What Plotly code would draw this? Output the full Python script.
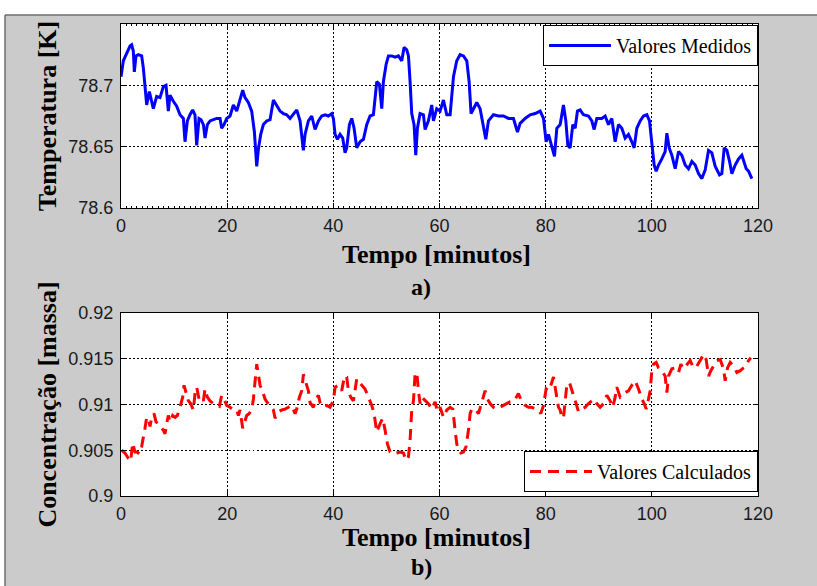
import plotly.graph_objects as go

# ---- measured temperature (K) vs time (min) ----
t_temp = [0.0, 0.44, 1.07, 1.70, 2.01, 2.32, 2.51, 2.83, 3.27, 3.89, 4.21, 4.52, 4.84, 5.34, 5.78,
          6.09, 6.72, 7.35, 7.98, 8.48, 8.92, 9.23, 9.86, 10.49, 11.12, 11.75, 12.06, 12.50, 13.00,
          13.50, 13.94, 14.26, 14.70, 15.08, 15.52, 15.83, 16.27, 16.77, 17.40, 18.03, 18.66, 18.97,
          19.41, 19.91, 20.54, 21.17, 21.80, 22.42, 22.93, 23.37, 23.99, 24.62, 25.13, 25.57, 25.88,
          26.32, 26.82, 27.45, 28.08, 28.71, 29.33, 29.96, 30.59, 31.22, 31.85, 32.48, 33.10, 33.73,
          34.36, 34.67, 35.30, 35.93, 36.56, 37.19, 37.81, 38.44, 39.07, 39.70, 40.01, 40.33, 40.77,
          41.27, 41.77, 42.21, 42.52, 43.03, 43.47, 43.91, 44.41, 45.04, 45.67, 46.29, 46.92, 47.55,
          48.18, 48.68, 49.12, 49.43, 49.94, 50.38, 51.01, 51.63, 52.26, 52.89, 53.33, 53.83, 54.15,
          54.46, 54.77, 55.21, 55.53, 55.84, 56.34, 56.97, 57.29, 57.91, 58.54, 58.86, 59.48, 60.11,
          60.74, 61.37, 62.00, 62.63, 63.25, 63.88, 64.51, 65.14, 65.58, 65.95, 66.39, 67.02, 67.65,
          68.28, 68.72, 69.22, 70.16, 71.11, 72.05, 72.99, 73.93, 74.69, 75.19, 76.13, 77.07, 78.02,
          78.96, 79.59, 80.09, 80.53, 81.16, 81.66, 82.10, 82.73, 83.35, 83.80, 84.17, 84.61, 85.11,
          85.55, 85.99, 86.49, 87.12, 88.07, 88.69, 89.13, 89.64, 90.58, 91.21, 91.83, 92.46, 93.09,
          93.72, 94.35, 94.97, 95.60, 96.23, 96.67, 97.17, 97.80, 98.43, 99.06, 99.56, 100.0, 100.44,
          100.82, 101.26, 101.88, 102.51, 102.83, 103.27, 103.77, 104.40, 105.03, 105.65, 106.28,
          106.91, 107.54, 108.17, 108.79, 109.42, 110.05, 110.68, 111.31, 111.93, 112.75, 113.19,
          113.63, 114.14, 114.64, 115.08, 115.70, 116.33, 116.96, 117.40, 117.78, 118.22, 118.84]
temp_measured = [78.707, 78.720, 78.726, 78.732, 78.733, 78.728, 78.711, 78.724, 78.725, 78.724,
                 78.714, 78.700, 78.684, 78.695, 78.688, 78.681, 78.691, 78.690, 78.699, 78.700,
                 78.679, 78.692, 78.687, 78.683, 78.676, 78.673, 78.654, 78.671, 78.676, 78.680,
                 78.676, 78.651, 78.673, 78.672, 78.668, 78.657, 78.668, 78.671, 78.672, 78.673,
                 78.673, 78.665, 78.668, 78.673, 78.675, 78.684, 78.679, 78.688, 78.696, 78.690,
                 78.686, 78.679, 78.662, 78.634, 78.648, 78.660, 78.668, 78.671, 78.672, 78.688,
                 78.683, 78.679, 78.677, 78.676, 78.673, 78.677, 78.680, 78.671, 78.647, 78.660,
                 78.671, 78.675, 78.664, 78.671, 78.675, 78.676, 78.675, 78.677, 78.673, 78.660,
                 78.656, 78.660, 78.657, 78.645, 78.649, 78.668, 78.673, 78.665, 78.649, 78.654,
                 78.656, 78.668, 78.675, 78.676, 78.703, 78.701, 78.681, 78.703, 78.717, 78.724,
                 78.724, 78.723, 78.724, 78.720, 78.731, 78.729, 78.724, 78.703, 78.677, 78.668,
                 78.643, 78.665, 78.677, 78.676, 78.664, 78.671, 78.684, 78.671, 78.681, 78.679,
                 78.688, 78.676, 78.676, 78.707, 78.720, 78.725, 78.724, 78.720, 78.703, 78.677,
                 78.681, 78.686, 78.681, 78.665, 78.656, 78.671, 78.676, 78.675, 78.675, 78.673,
                 78.673, 78.662, 78.669, 78.673, 78.676, 78.677, 78.679, 78.673, 78.654, 78.660,
                 78.649, 78.642, 78.665, 78.668, 78.684, 78.671, 78.651, 78.649, 78.668, 78.665,
                 78.679, 78.680, 78.676, 78.675, 78.671, 78.664, 78.673, 78.673, 78.675, 78.668,
                 78.673, 78.654, 78.668, 78.665, 78.657, 78.660, 78.654, 78.649, 78.665, 78.671,
                 78.675, 78.676, 78.671, 78.654, 78.635, 78.630, 78.635, 78.640, 78.646, 78.661,
                 78.649, 78.643, 78.632, 78.646, 78.643, 78.635, 78.632, 78.638, 78.635, 78.628,
                 78.624, 78.631, 78.647, 78.645, 78.634, 78.627, 78.628, 78.649, 78.647, 78.638,
                 78.628, 78.635, 78.640, 78.643, 78.638, 78.632, 78.630, 78.624]

# ---- calculated mass concentration vs time (min) ----
t_conc = [0.13, 0.75, 1.38, 1.82, 2.20, 2.64, 3.08, 3.45, 3.89, 4.21, 4.52, 4.84, 5.15, 5.46, 5.78,
          6.22, 6.60, 7.04, 7.35, 7.66, 7.98, 8.29, 8.61, 8.92, 9.23, 9.74, 10.18, 10.62, 11.12,
          11.62, 11.87, 12.25, 12.69, 13.13, 13.63, 13.94, 14.26, 14.70, 15.08, 15.52, 15.83, 16.27,
          16.77, 17.40, 18.03, 18.53, 18.97, 19.41, 19.91, 20.54, 21.17, 21.80, 22.11, 22.42, 22.93,
          23.37, 23.68, 24.12, 24.62, 24.94, 25.25, 25.57, 25.88, 26.19, 26.51, 26.82, 27.14, 27.45,
          28.08, 28.71, 29.02, 29.65, 30.28, 30.90, 31.53, 32.16, 32.79, 33.10, 33.61, 34.05, 34.36,
          34.80, 35.30, 35.62, 36.24, 36.75, 37.19, 37.50, 38.13, 38.76, 39.38, 40.01, 40.33, 40.95,
          41.58, 42.09, 42.52, 42.84, 43.28, 43.78, 44.41, 44.91, 45.35, 45.98, 46.61, 47.24, 47.68,
          48.18, 48.81, 49.31, 49.75, 50.19, 50.69, 51.32, 51.95, 52.58, 53.20, 53.71, 54.15, 54.46,
          54.77, 55.09, 55.40, 55.72, 56.03, 56.34, 56.66, 57.29, 57.91, 58.54, 59.17, 59.61, 60.11,
          60.74, 61.37, 62.00, 62.50, 62.94, 63.25, 63.57, 64.01, 64.51, 65.01, 65.45, 65.77, 66.08,
          66.71, 67.34, 67.65, 68.15, 68.59, 69.03, 69.54, 70.16, 70.79, 71.42, 72.05, 72.68, 73.31,
          74.06, 74.87, 75.50, 76.13, 76.76, 77.39, 78.02, 78.64, 79.08, 79.59, 80.09, 80.53, 81.03,
          81.47, 81.78, 82.10, 82.41, 82.73, 83.04, 83.35, 83.67, 83.98, 84.49, 84.93, 85.24, 85.74,
          86.18, 86.81, 87.44, 88.07, 88.69, 89.13, 89.64, 90.26, 90.89, 91.52, 92.15, 92.65, 93.09,
          93.40, 94.03, 94.54, 94.97, 95.60, 96.23, 96.86, 97.49, 98.12, 98.56, 98.94, 99.37, 99.69,
          100.0, 100.31, 100.82, 101.26, 101.88, 102.51, 102.83, 103.14, 103.77, 104.40, 105.03,
          105.47, 105.97, 106.60, 107.23, 107.86, 108.48, 109.11, 109.74, 110.24, 110.68, 111.12,
          111.62, 112.25, 112.88, 113.51, 113.82, 114.26, 114.76, 115.39, 116.02, 116.65, 117.28,
          117.78, 118.22, 118.66]
conc_calculated = [0.9050, 0.9047, 0.9041, 0.9038, 0.9058, 0.9048, 0.9048, 0.9046, 0.9054, 0.9063,
                   0.9074, 0.9086, 0.9085, 0.9076, 0.9086, 0.9090, 0.9081, 0.9079, 0.9076, 0.9074,
                   0.9072, 0.9068, 0.9079, 0.9088, 0.9081, 0.9088, 0.9086, 0.9088, 0.9097, 0.9108,
                   0.9121, 0.9112, 0.9104, 0.9101, 0.9094, 0.9112, 0.9119, 0.9106, 0.9108, 0.9104,
                   0.9117, 0.9108, 0.9104, 0.9101, 0.9099, 0.9098, 0.9110, 0.9106, 0.9099, 0.9097,
                   0.9094, 0.9094, 0.9088, 0.9094, 0.9074, 0.9081, 0.9088, 0.9090, 0.9094, 0.9106,
                   0.9130, 0.9144, 0.9133, 0.9121, 0.9117, 0.9110, 0.9106, 0.9103, 0.9099, 0.9094,
                   0.9085, 0.9092, 0.9094, 0.9095, 0.9097, 0.9099, 0.9090, 0.9095, 0.9108, 0.9115,
                   0.9133, 0.9124, 0.9115, 0.9102, 0.9097, 0.9106, 0.9110, 0.9102, 0.9097, 0.9099,
                   0.9097, 0.9104, 0.9119, 0.9121, 0.9115, 0.9131, 0.9130, 0.9115, 0.9108, 0.9104,
                   0.9128, 0.9124, 0.9121, 0.9117, 0.9108, 0.9099, 0.9090, 0.9070, 0.9079, 0.9085,
                   0.9072, 0.9057, 0.9048, 0.9046, 0.9047, 0.9048, 0.9047, 0.9039, 0.9043, 0.9061,
                   0.9094, 0.9104, 0.9133, 0.9135, 0.9115, 0.9101, 0.9108, 0.9104, 0.9101, 0.9095,
                   0.9103, 0.9092, 0.9097, 0.9086, 0.9094, 0.9097, 0.9095, 0.9072, 0.9057, 0.9050,
                   0.9047, 0.9048, 0.9054, 0.9072, 0.9090, 0.9095, 0.9095, 0.9090, 0.9097, 0.9106,
                   0.9115, 0.9106, 0.9101, 0.9097, 0.9095, 0.9097, 0.9099, 0.9101, 0.9103, 0.9104,
                   0.9112, 0.9103, 0.9099, 0.9097, 0.9097, 0.9095, 0.9094, 0.9090, 0.9099, 0.9117,
                   0.9115, 0.9122, 0.9130, 0.9119, 0.9106, 0.9097, 0.9094, 0.9086, 0.9085, 0.9104,
                   0.9121, 0.9124, 0.9117, 0.9110, 0.9101, 0.9092, 0.9095, 0.9097, 0.9101, 0.9104,
                   0.9106, 0.9101, 0.9097, 0.9101, 0.9110, 0.9104, 0.9097, 0.9108, 0.9119, 0.9108,
                   0.9110, 0.9113, 0.9115, 0.9121, 0.9126, 0.9117, 0.9106, 0.9101, 0.9095, 0.9106,
                   0.9115, 0.9137, 0.9144, 0.9146, 0.9140, 0.9137, 0.9131, 0.9113, 0.9131, 0.9139,
                   0.9140, 0.9135, 0.9144, 0.9139, 0.9144, 0.9148, 0.9140, 0.9142, 0.9148, 0.9155,
                   0.9149, 0.9131, 0.9137, 0.9142, 0.9148, 0.9149, 0.9139, 0.9126, 0.9140, 0.9146,
                   0.9142, 0.9135, 0.9137, 0.9140, 0.9142, 0.9148, 0.9151]

# ---- tick labels ----
x_ticks = [0, 20, 40, 60, 80, 100, 120]
x_ticktext = ["0", "20", "40", "60", "80", "100", "120"]
temp_ticks = [78.6, 78.65, 78.7]
temp_ticktext = ["78.6", "78.65", "78.7"]
conc_ticks = [0.9, 0.905, 0.91, 0.915, 0.92]
conc_ticktext = ["0.9", "0.905", "0.91", "0.915", "0.92"]

W, H = 817, 586
SERIF = "Liberation Serif, Times New Roman, serif"
SANS = "Liberation Sans, Arial, sans-serif"
FIG_BG = "#cbcbcb"


def px_x(p):
    return p / W


def px_y(p):
    return 1 - p / H


fig = go.Figure()

fig.add_trace(go.Scatter(
    x=t_temp, y=temp_measured, mode="lines", name="Valores Medidos",
    line=dict(color="#0000ff", width=3), xaxis="x", yaxis="y", legend="legend",
))
fig.add_trace(go.Scatter(
    x=t_conc, y=conc_calculated, mode="lines", name="Valores Calculados",
    line=dict(color="#ff0000", width=3, dash="11px,7px"), xaxis="x2", yaxis="y2", legend="legend2",
))

axis_common = dict(
    showline=True, linecolor="black", linewidth=1, mirror="ticks",
    ticks="inside", ticklen=5, tickcolor="black", tickwidth=1,
    showgrid=True, gridcolor="black", gridwidth=1, griddash="1.5px,2.5px",
    zeroline=False,
    tickfont=dict(family=SANS, size=18, color="#1a1a1a"),
)
title_font = dict(family=SERIF, size=26, color="black", weight="bold")

xdom = [px_x(121), px_x(758)]

fig.update_layout(
    width=W, height=H,
    margin=dict(l=0, r=0, t=0, b=0),
    paper_bgcolor=FIG_BG, plot_bgcolor="white",
    template="none",
    xaxis=dict(axis_common, domain=xdom, range=[0, 120], tickvals=x_ticks, ticktext=x_ticktext,
               anchor="y", ticklabelstandoff=1,
               minor=dict(dtick=1, ticks="inside", ticklen=2, tickcolor="black", showgrid=False)),
    yaxis=dict(axis_common, domain=[px_y(208), px_y(24)], range=[78.6, 78.75],
               tickvals=temp_ticks, ticktext=temp_ticktext, anchor="x", ticklabelstandoff=3,
               title=dict(text="Temperatura [K]", font=title_font, standoff=4)),
    xaxis2=dict(axis_common, domain=xdom, range=[0, 120], tickvals=x_ticks, ticktext=x_ticktext,
                anchor="y2", ticklabelstandoff=1),
    yaxis2=dict(axis_common, domain=[px_y(496), px_y(313)], range=[0.9, 0.92],
                tickvals=conc_ticks, ticktext=conc_ticktext, anchor="x2", ticklabelstandoff=3,
                title=dict(text="Concentração [massa]", font=title_font, standoff=4)),
    legend=dict(x=px_x(758), y=px_y(25), xanchor="right", yanchor="top",
                bgcolor="white", bordercolor="black", borderwidth=1,
                font=dict(family=SERIF, size=20, color="black"), itemwidth=62),
    legend2=dict(x=px_x(758), y=px_y(451), xanchor="right", yanchor="top",
                 bgcolor="white", bordercolor="black", borderwidth=1,
                 font=dict(family=SERIF, size=20, color="black"), itemwidth=62),
    showlegend=True,
)

# x-axis titles and panel captions
for text, ypix in (("Tempo [minutos]", 254), ("Tempo [minutos]", 537)):
    fig.add_annotation(text=text, x=px_x(437), y=px_y(ypix), xref="paper", yref="paper",
                       showarrow=False, xanchor="center", yanchor="middle", font=title_font)
for label, ypix in (("a)", 287), ("b)", 567)):
    fig.add_annotation(text=label, x=px_x(421), y=px_y(ypix), xref="paper", yref="paper",
                       showarrow=False, xanchor="center", yanchor="middle",
                       font=dict(family=SERIF, size=24, color="black", weight="bold"))

# white strip above and to the left of the grey figure window, with its dark edge
fig.add_shape(type="rect", xref="paper", yref="paper", x0=0, x1=1, y0=px_y(15), y1=1,
              fillcolor="white", line=dict(width=0), layer="below")
fig.add_shape(type="rect", xref="paper", yref="paper", x0=0, x1=px_x(5), y0=0, y1=1,
              fillcolor="white", line=dict(width=0), layer="below")
fig.add_shape(type="line", xref="paper", yref="paper", x0=px_x(5), x1=1, y0=px_y(15), y1=px_y(15),
              line=dict(color="#6e6e6e", width=1.5))
fig.add_shape(type="line", xref="paper", yref="paper", x0=px_x(5), x1=px_x(5), y0=0, y1=px_y(15),
              line=dict(color="#6e6e6e", width=1.5))

fig.write_html("out.html")
